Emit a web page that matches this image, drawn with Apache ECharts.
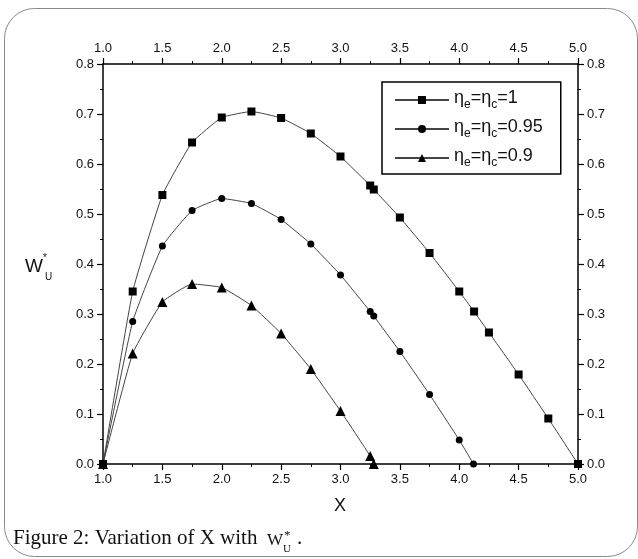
<!DOCTYPE html>
<html><head><meta charset="utf-8">
<script src="https://cdn.jsdelivr.net/npm/echarts@6/dist/echarts.min.js"></script>
<style>html,body{margin:0;padding:0;background:#fff}#c{width:638px;height:559px}</style>
</head><body><div id="c"></div>
<script>
// ---- data ----
const xTicks = [1.0, 1.5, 2.0, 2.5, 3.0, 3.5, 4.0, 4.5, 5.0];
const yTicks = [0.0, 0.1, 0.2, 0.3, 0.4, 0.5, 0.6, 0.7, 0.8];
const seriesNames = ['ηe=ηc=1', 'ηe=ηc=0.95', 'ηe=ηc=0.9'];
const x1 = [1.0, 1.25, 1.5, 1.75, 2.0, 2.25, 2.5, 2.75, 3.0, 3.25, 3.28, 3.5, 3.75, 4.0, 4.125, 4.25, 4.5, 4.75, 5.0];
const y1 = [0, 0.345, 0.538, 0.643, 0.693, 0.705, 0.692, 0.661, 0.615, 0.557, 0.549, 0.493, 0.422, 0.345, 0.305, 0.263, 0.179, 0.091, 0];
const x2 = [1.0, 1.25, 1.5, 1.75, 2.0, 2.25, 2.5, 2.75, 3.0, 3.25, 3.28, 3.5, 3.75, 4.0, 4.12];
const y2 = [0, 0.285, 0.436, 0.507, 0.531, 0.521, 0.489, 0.44, 0.378, 0.305, 0.296, 0.225, 0.139, 0.048, 0];
const x3 = [1.0, 1.25, 1.5, 1.75, 2.0, 2.25, 2.5, 2.75, 3.0, 3.25, 3.28];
const y3 = [0, 0.221, 0.324, 0.36, 0.353, 0.317, 0.261, 0.19, 0.106, 0.016, 0];

const legendRich = {
  'ηe=ηc=1': '{n|η}{s|e}{n|=η}{s|c}{n|=1}',
  'ηe=ηc=0.95': '{n|η}{s|e}{n|=η}{s|c}{n|=0.95}',
  'ηe=ηc=0.9': '{n|η}{s|e}{n|=η}{s|c}{n|=0.9}'
};
const pairs = (xs, ys) => xs.map((x, i) => [x, ys[i]]);

const chart = echarts.init(document.getElementById('c'), null, {renderer: 'canvas'});
const labelFont = {fontFamily: 'Liberation Sans', fontSize: 13, color: '#111'};
function xAxis(pos) {
  return {
    type: 'value', position: pos, min: 1.0, max: 5.0, interval: 0.5,
    axisLine: {show: true, onZero: false, lineStyle: {color: '#000', width: 1.5}},
    axisTick: {show: true, inside: false, length: 6, lineStyle: {color: '#000', width: 1.2}},
    minorTick: {show: true, splitNumber: 2, length: 3, lineStyle: {color: '#000', width: 1}},
    splitLine: {show: false},
    axisLabel: Object.assign({margin: 9, formatter: v => v.toFixed(1)}, labelFont)
  };
}
function yAxis(pos) {
  return {
    type: 'value', position: pos, min: 0, max: 0.8, interval: 0.1,
    axisLine: {show: true, onZero: false, lineStyle: {color: '#000', width: 1.5}},
    axisTick: {show: true, inside: false, length: 6, lineStyle: {color: '#000', width: 1.2}},
    minorTick: {show: true, splitNumber: 2, length: 3, lineStyle: {color: '#000', width: 1}},
    splitLine: {show: false},
    axisLabel: Object.assign({margin: 9, formatter: v => v.toFixed(1)}, labelFont)
  };
}
const lineStyle = {color: '#444', width: 1};
const option = {
  backgroundColor: '#fff',
  animation: false,
  grid: {left: 103, right: 60, top: 64, bottom: 95},
  xAxis: [xAxis('bottom'), xAxis('top')],
  yAxis: [yAxis('left'), yAxis('right')],
  legend: {
    orient: 'vertical', left: 382, top: 82,
    data: seriesNames,
    itemWidth: 54, itemHeight: 10, itemGap: 7,
    padding: [7, 18, 5, 12],
    borderColor: '#000', borderWidth: 1.5, backgroundColor: '#fff',
    formatter: n => legendRich[n],
    textStyle: {
      fontFamily: 'Liberation Sans', color: '#111',
      rich: {
        n: {fontSize: 18, fontFamily: 'Liberation Sans', padding: [0, 0, 4, 0], verticalAlign: 'bottom'},
        s: {fontSize: 12, fontFamily: 'Liberation Sans', verticalAlign: 'bottom'}
      }
    }
  },
  graphic: [
    {type: 'rect', shape: {x: 4.5, y: 8.5, width: 633, height: 548, r: 30}, style: {fill: 'none', stroke: '#8a8a8a', lineWidth: 1}, z: 100},
    {type: 'text', left: 334, top: 497, style: {text: 'X', font: '18px "Liberation Sans"', fill: '#111'}},
    {type: 'text', left: 25, top: 257, style: {text: 'W', font: '19px "Liberation Sans"', fill: '#111'}},
    {type: 'text', left: 43, top: 253, style: {text: '*', font: '10px "Liberation Sans"', fill: '#111'}},
    {type: 'text', left: 45, top: 272, style: {text: 'U', font: '10px "Liberation Sans"', fill: '#111'}},
    {type: 'text', left: 13, top: 528, style: {text: 'Figure 2: Variation of X with', font: '21px "Liberation Serif"', fill: '#111'}},
    {type: 'text', left: 267, top: 532, style: {text: 'W', font: '17px "Liberation Serif"', fill: '#111'}},
    {type: 'text', left: 284, top: 529, style: {text: '*', font: '13px "Liberation Serif"', fill: '#111'}},
    {type: 'text', left: 283, top: 544, style: {text: 'U', font: '11px "Liberation Serif"', fill: '#111'}},
    {type: 'text', left: 297, top: 528, style: {text: '.', font: '21px "Liberation Serif"', fill: '#111'}}
  ],
  series: [
    {name: seriesNames[0], type: 'line', smooth: 0.12, data: pairs(x1, y1), symbol: 'rect', symbolSize: 8,
     itemStyle: {color: '#000'}, lineStyle: lineStyle},
    {name: seriesNames[1], type: 'line', smooth: 0.12, data: pairs(x2, y2), symbol: 'circle', symbolSize: 7,
     itemStyle: {color: '#000'}, lineStyle: lineStyle},
    {name: seriesNames[2], type: 'line', smooth: 0.12, data: pairs(x3, y3), symbol: 'triangle', symbolSize: 10,
     itemStyle: {color: '#000'}, lineStyle: lineStyle}
  ]
};
chart.setOption(option);
</script></body></html>
